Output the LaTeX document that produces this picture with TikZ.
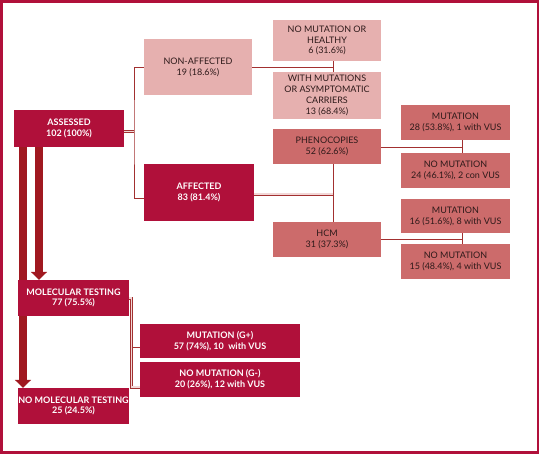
\documentclass[tikz,border=0pt]{standalone}
\usepackage{fontspec}
\setmainfont{Lato}
\usetikzlibrary{arrows.meta,backgrounds}
\definecolor{crim}{HTML}{B0103A}
\definecolor{lpink}{HTML}{E6B0AF}
\definecolor{mred}{HTML}{CC6B6B}
\definecolor{barc}{HTML}{A01820}
\definecolor{lnc}{HTML}{A23030}
\definecolor{dtxt}{HTML}{2E1A1A}
\begin{document}
\begin{tikzpicture}[x=1pt,y=-1pt,
 box/.style={rectangle, inner sep=0pt, align=center, font=\fontsize{9}{10.8}\selectfont},
 cbox/.style={box, fill=crim, text=white, font=\fontsize{9}{10.8}\selectfont\bfseries},
 lbox/.style={box, fill=lpink, text=dtxt},
 mbox/.style={box, fill=mred, text=dtxt},
 conn/.style={draw=lnc, line width=0.8pt},
 dconn/.style={draw=lnc, line width=0.6pt, double=lpink!50!white, double distance=1.8pt},
 barrow/.style={draw=barc, line width=8pt, -{Triangle[width=16pt,length=8pt]}},
]
\useasboundingbox (0,0) rectangle (543,456);
\draw[crim, line width=2.2pt] (1.5,1.5) rectangle (538,452.5);

\node[cbox, minimum width=110pt, minimum height=37pt] (assessed) at (69,128.5) {ASSESSED\\102 (100\%)};
\node[lbox, minimum width=108pt, minimum height=56pt] (nonaff) at (198,67) {NON-AFFECTED\\19 (18.6\%)};
\node[cbox, minimum width=110pt, minimum height=57pt] (aff) at (199,192.5) {AFFECTED\\83 (81.4\%)};
\node[lbox, minimum width=108pt, minimum height=41pt] (nomut) at (327,40.5) {NO MUTATION OR\\HEALTHY\\6 (31.6\%)};
\node[lbox, minimum width=108pt, minimum height=47pt] (withmut) at (327,95.5) {WITH MUTATIONS\\OR ASYMPTOMATIC\\CARRIERS\\13 (68.4\%)};
\node[mbox, minimum width=108pt, minimum height=35pt] (pheno) at (327,146.5) {PHENOCOPIES\\52 (62.6\%)};
\node[mbox, minimum width=108pt, minimum height=35pt] (hcm) at (327,239.5) {HCM\\31 (37.3\%)};
\node[mbox, minimum width=109pt, minimum height=35pt] (m28) at (455.5,122.5) {MUTATION\\28 (53.8\%), 1 with VUS};
\node[mbox, minimum width=109pt, minimum height=35pt] (nm24) at (455.5,170.5) {NO MUTATION\\24 (46.1\%), 2 con VUS};
\node[mbox, minimum width=109pt, minimum height=34pt] (m16) at (455.5,216) {MUTATION\\16 (51.6\%), 8 with VUS};
\node[mbox, minimum width=109pt, minimum height=35pt] (nm15) at (455.5,261.5) {NO MUTATION\\15 (48.4\%), 4 with VUS};
\node[cbox, minimum width=111pt, minimum height=36pt] (mol) at (73.5,298) {MOLECULAR TESTING\\77 (75.5\%)};
\node[cbox, minimum width=111pt, minimum height=36pt] (nomol) at (73.5,406) {NO MOLECULAR TESTING\\25 (24.5\%)};
\node[cbox, minimum width=160pt, minimum height=34pt] (gplus) at (220,341) {MUTATION (G+)\\57 (74\%), 10\ \ with VUS};
\node[cbox, minimum width=160pt, minimum height=35pt] (gminus) at (220,379.5) {NO MUTATION (G-)\\20 (26\%), 12 with VUS};

\begin{scope}[on background layer]
\draw[barrow] ([xshift=-30pt]assessed.south) -- ([xshift=-30pt]assessed.south |- mol.north);
\draw[barrow] ([xshift=-46pt]assessed.south) -- ([xshift=-46pt]assessed.south |- nomol.north);
\end{scope}

\coordinate (j1) at (134,131.5);
\draw[conn] (nonaff.west) -| (j1) |- ([yshift=-5.5pt]aff.west);
\draw[dconn] (assessed.east |- j1) -- (j1);
\coordinate (j2) at (333,67);
\draw[conn] (nonaff.east) -- (j2);
\draw[conn] (nomut.south -| j2) -- (withmut.north -| j2);
\coordinate (j3) at (333,194);
\draw[conn] (pheno.south -| j3) -- (hcm.north -| j3);
\draw[dconn] (aff.east |- j3) -- (j3);
\coordinate (j4) at (462,147);
\draw[conn] (pheno.east |- j4) -- (j4);
\draw[conn] (m28.south -| j4) -- (nm24.north -| j4);
\coordinate (j5) at (462,239);
\draw[conn] (hcm.east |- j5) -- (j5);
\draw[conn] (m16.south -| j5) -- (nm15.north -| j5);
\coordinate (j6) at (131.5,298);
\draw[conn] ([yshift=-6pt]gplus.west) -- ([yshift=-6pt]gplus.west -| j6);
\draw[dconn] (mol.east) -- (j6) |- ([yshift=-7.5pt]gminus.west);
\end{tikzpicture}
\end{document}
